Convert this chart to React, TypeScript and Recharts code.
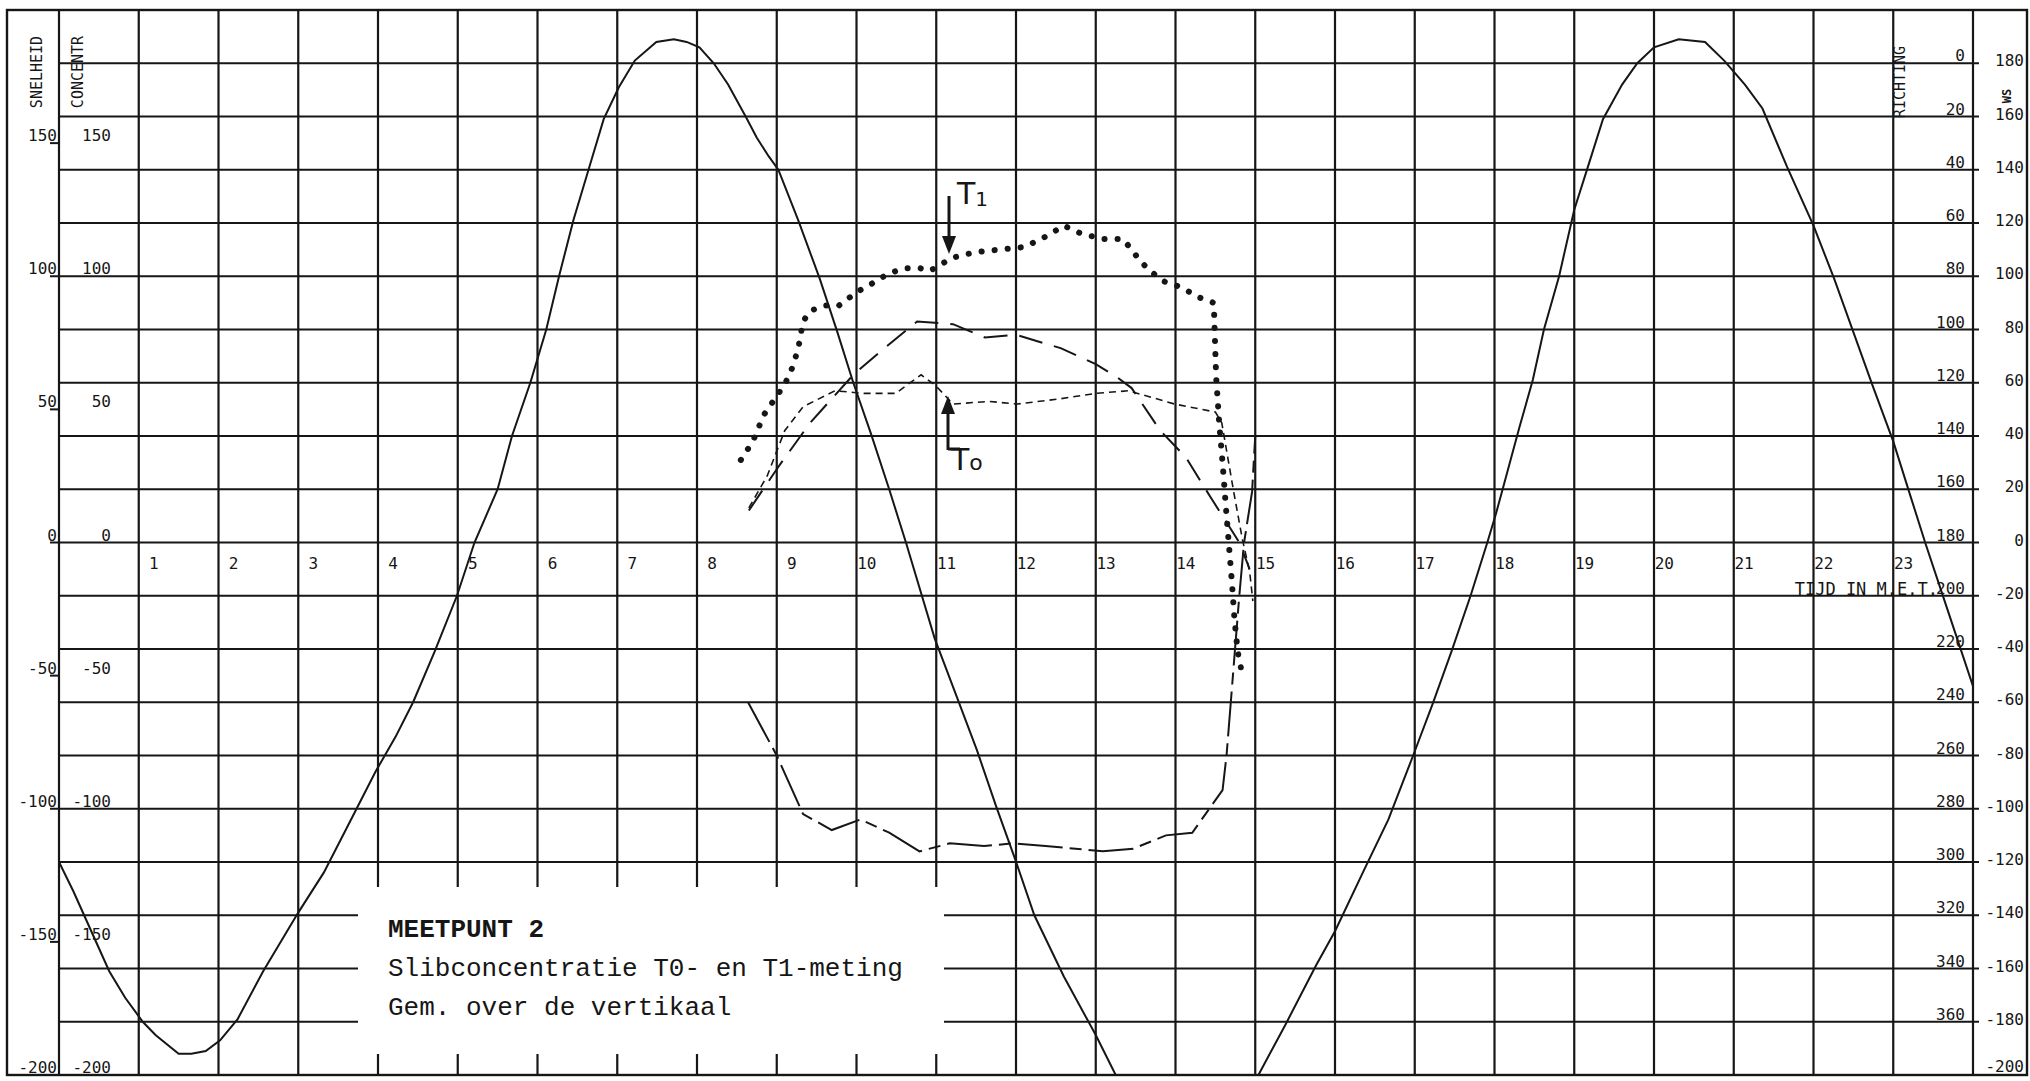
import React from "react";
import {
  LineChart,
  Line,
  XAxis,
  YAxis,
  CartesianGrid,
  ReferenceDot,
} from "recharts";

const INK = "#161616";
const MONO = "'DejaVu Sans Mono', monospace";
const TYPE = "'Liberation Mono', 'DejaVu Sans Mono', monospace";

// x axis: time in hours (M.E.T.)
const hourGrid = [0, 1, 2, 3, 4, 5, 6, 7, 8, 9, 10, 11, 12, 13, 14, 15, 16, 17, 18, 19, 20, 21, 22, 23, 24];
const hourLabels = [1, 2, 3, 4, 5, 6, 7, 8, 9, 10, 11, 12, 13, 14, 15, 16, 17, 18, 19, 20, 21, 22, 23];

// y levels
const levelGrid = [-200, -180, -160, -140, -120, -100, -80, -60, -40, -20, 0, 20, 40, 60, 80, 100, 120, 140, 160, 180, 200];
const leftLabels = [-200, -150, -100, -50, 0, 50, 100, 150];
const rightLabels = [-200, -180, -160, -140, -120, -100, -80, -60, -40, -20, 0, 20, 40, 60, 80, 100, 120, 140, 160, 180];

// snelheid (solid curve)
const tideHours = [
  0, 0.18, 0.36, 0.63, 0.83, 1.05, 1.21, 1.5, 1.66, 1.84, 2.02, 2.24, 2.56, 3.0, 3.32, 3.68, 3.97, 4.22, 4.44, 4.71,
  4.99, 5.21, 5.5, 5.68, 5.91, 6.11, 6.27, 6.45, 6.65, 6.83, 7.02, 7.22, 7.49, 7.71, 7.87, 8.03, 8.21, 8.39, 8.61, 8.75,
  8.9, 9.02, 9.27, 9.54, 9.76, 9.96, 10.18, 10.41, 10.62, 10.98, 11.22, 11.51, 11.75, 11.99, 12.23, 12.6, 13.0, 13.25, 14.1, 15.04,
  15.38, 15.76, 16.0, 16.38, 16.67, 16.98, 17.22, 17.46, 17.7, 17.91, 18.02, 18.12, 18.31, 18.48, 18.62, 18.81, 19.0, 19.17, 19.36, 19.6,
  19.79, 20.0, 20.31, 20.64, 20.88, 21.14, 21.36, 21.67, 22.0, 22.26, 22.5, 22.74, 23.0, 23.21, 23.4, 23.7, 24,
];
const tideValues = [
  -120, -131, -143, -161, -171, -180, -185, -192, -192, -191, -187, -179, -161, -139, -124, -103, -86, -73, -60, -41,
  -20, 0, 20, 40, 60, 80, 100, 121, 141, 159, 171, 181, 188, 189, 188, 186, 180, 172, 160, 152,
  145, 140, 121, 99, 79, 60, 41, 20, 0, -36, -55, -78, -99, -119, -140, -163, -185, -200, null, -200,
  -181, -159, -146, -122, -104, -80, -61, -41, -20, 0, 11, 22, 43, 61, 80, 100, 125, 141, 159, 172,
  180, 186, 189, 188, 181, 172, 163, 141, 119, 99, 79, 59, 38, 18, 0, -27, -54,
];

// T1 concentratie (heavy dots)
const t1Hours = [
  8.55, 8.7, 8.84, 9.0, 9.11, 9.2, 9.27, 9.33, 9.42, 9.6, 9.78, 10.0, 10.18, 10.4, 10.6, 10.8, 10.92, 11.03, 11.21, 11.48,
  11.79, 12.11, 12.38, 12.6, 12.82, 13.09, 13.34, 13.45, 13.55, 13.68, 13.86, 14.06, 14.3, 14.48, 14.51, 14.55, 14.59, 14.63, 14.67, 14.71,
  14.74, 14.78, 14.82,
];
const t1Values = [
  31, 38, 48, 55, 60, 66, 73, 83, 87, 89, 89, 94, 97, 101, 103, 103, 102, 104, 107, 109,
  110, 111, 115, 119, 116, 114, 114, 110, 106, 102, 98, 96, 92, 90, 62, 44, 30, 14, -1, -16,
  -29, -41, -47,
];

// T0 concentratie (fine dashes)
const t0Hours = [8.65, 8.88, 9.1, 9.33, 9.73, 10.09, 10.49, 10.81, 10.99, 11.21, 11.66, 12.02, 12.56, 13.0, 13.41, 13.99, 14.5, 14.58, 14.73, 14.84, 14.93, 14.97];
const t0Values = [13, 25, 42, 51, 57, 56, 56, 63, 59, 52, 53, 52, 54, 56, 57, 52, 49, 45, 19, 1, -11, -22];

// long dashes
const dashHours = [8.65, 9.01, 9.42, 9.96, 10.31, 10.76, 11.21, 11.61, 12.0, 12.56, 13.0, 13.27, 13.45, 13.81, 14.13, 14.44, 14.8, 14.93];
const dashValues = [12, 28, 45, 63, 72, 83, 82, 77, 78, 73, 67, 62, 58, 42, 32, 17, 0, -10];

// dash-dot curve (lower)
const lowHours = [8.64, 9.0, 9.33, 9.69, 10.05, 10.41, 10.79, 11.17, 11.6, 11.96, 12.37, 13.09, 13.47, 13.88, 14.21, 14.59, 14.64, 14.72, 14.8, 14.86, 14.96, 15.0];
const lowValues = [-60, -80, -102, -108, -104, -109, -116, -113, -114, -113, -114, -116, -115, -110, -109, -93, -80, -50, -20, 0, 19, 40];

const zip = (hs: number[], vs: (number | null)[]) => hs.map((h, i) => ({ h, v: vs[i] }));

const tideData = zip(tideHours, tideValues);
const t1Data = zip(t1Hours, t1Values);
const t0Data = zip(t0Hours, t0Values);
const dashData = zip(dashHours, dashValues);
const lowData = zip(lowHours, lowValues);

function LeftTick(props: any) {
  const { x, y, payload } = props;
  const v = payload.value;
  return (
    <g>
      <line x1={x - 9} x2={x} y1={y} y2={y} stroke={INK} strokeWidth={2} />
      <text x={x - 2} y={y - 2} textAnchor="end" fontFamily={MONO} fontSize={16} fill={INK}>
        {v}
      </text>
      <text x={x + 52} y={y - 2} textAnchor="end" fontFamily={MONO} fontSize={16} fill={INK}>
        {v}
      </text>
    </g>
  );
}

function RightTick(props: any) {
  const { x, y, payload } = props;
  const v = payload.value;
  return (
    <g>
      <line x1={x} x2={x + 6} y1={y} y2={y} stroke={INK} strokeWidth={2} />
      {v > -200 && (
        <text x={x - 8} y={y - 2} textAnchor="end" fontFamily={MONO} fontSize={16} fill={INK}>
          {180 - v}
        </text>
      )}
      <text x={x + 51} y={v === -200 ? y - 3 : y + 3} textAnchor="end" fontFamily={MONO} fontSize={16} fill={INK}>
        {v}
      </text>
    </g>
  );
}

const hourLabel = (h: number) => (p: any) => {
  const vb = p.viewBox || {};
  return (
    <text x={vb.x + 20} y={vb.y + 26} textAnchor="end" fontFamily={MONO} fontSize={16} fill={INK}>
      {h}
    </text>
  );
};

const lineBase = {
  dataKey: "v",
  dot: false,
  activeDot: false,
  isAnimationActive: false,
  connectNulls: false,
  type: "linear" as const,
};

export default function App() {
  return (
    <div style={{ position: "absolute", left: 0, top: 0, width: 2030, height: 1081, background: "#fff" }}>
      <LineChart width={2030} height={1081} margin={{ top: 10, right: 0, bottom: 6, left: 0 }}>
        <CartesianGrid
          horizontalValues={levelGrid}
          verticalValues={hourGrid}
          stroke={INK}
          strokeWidth={2.2}
        />
        <XAxis type="number" dataKey="h" domain={[0, 24]} ticks={hourGrid} hide allowDataOverflow />
        <YAxis
          type="number"
          domain={[-200, 200]}
          ticks={leftLabels}
          interval={0}
          width={59}
          tickSize={0}
          tickMargin={0}
          axisLine={false}
          tickLine={false}
          tick={<LeftTick />}
          allowDataOverflow
        />
        <YAxis
          yAxisId="r"
          orientation="right"
          type="number"
          domain={[-200, 200]}
          ticks={rightLabels}
          interval={0}
          width={57}
          tickSize={0}
          tickMargin={0}
          axisLine={false}
          tickLine={false}
          tick={<RightTick />}
          allowDataOverflow
        />
        {hourLabels.map((h) => (
          <ReferenceDot key={h} x={h} y={0} r={0} fill="none" stroke="none" label={hourLabel(h)} />
        ))}
        <Line {...lineBase} data={tideData} stroke={INK} strokeWidth={2} />
        <Line {...lineBase} data={lowData} stroke={INK} strokeWidth={2} strokeDasharray="45 7 12 7" />
        <Line {...lineBase} data={dashData} stroke={INK} strokeWidth={2} strokeDasharray="24 12" />
        <Line {...lineBase} data={t0Data} stroke={INK} strokeWidth={1.6} strokeDasharray="7 5" />
        <Line
          {...lineBase}
          data={t1Data}
          stroke={INK}
          strokeWidth={6}
          strokeDasharray="0.1 13"
          strokeLinecap="round"
        />
      </LineChart>
      <svg
        width={2030}
        height={1081}
        style={{ position: "absolute", left: 0, top: 0, pointerEvents: "none" }}
      >
        <rect x={7} y={10} width={2020} height={1065} fill="none" stroke={INK} strokeWidth={2.4} />
        <rect x={358} y={887} width={586} height={167} fill="#fff" />
        <text x={388} y={937} fontFamily={TYPE} fontSize={26} fontWeight="bold" fill={INK}>
          MEETPUNT 2
        </text>
        <text x={388} y={976} fontFamily={TYPE} fontSize={26} fill={INK}>
          Slibconcentratie T0- en T1-meting
        </text>
        <text x={388} y={1015} fontFamily={TYPE} fontSize={26} fill={INK}>
          Gem. over de vertikaal
        </text>

        <text x={1938} y={595} textAnchor="end" fontFamily={MONO} fontSize={17} fill={INK}>
          TIJD IN M.E.T.
        </text>

        <text transform="translate(42 72) rotate(-90)" textAnchor="middle" fontFamily={MONO} fontSize={15} fill={INK}>
          SNELHEID
        </text>
        <text transform="translate(83 72) rotate(-90)" textAnchor="middle" fontFamily={MONO} fontSize={15} fill={INK}>
          CONCENTR
        </text>
        <text transform="translate(1905 82) rotate(-90)" textAnchor="middle" fontFamily={MONO} fontSize={15} fill={INK}>
          RICHTING
        </text>
        <text transform="translate(2011 96) rotate(-90)" textAnchor="middle" fontFamily={MONO} fontSize={12} fontWeight="bold" fill={INK}>
          WS
        </text>

        {/* T1 annotation */}
        <text x={957} y={204} fontFamily="'DejaVu Sans', sans-serif" fontSize={30} fill={INK}>
          T<tspan fontSize={20} dy={2}>1</tspan>
        </text>
        <line x1={949} y1={196} x2={949} y2={240} stroke={INK} strokeWidth={3} />
        <polygon points="942,236 956,236 949,254" fill={INK} />

        {/* T0 annotation */}
        <line x1={948} y1={450} x2={948} y2={410} stroke={INK} strokeWidth={3} />
        <polygon points="941,414 955,414 948,396" fill={INK} />
        <line x1={948} y1={449} x2={960} y2={449} stroke={INK} strokeWidth={3} />
        <text x={951} y={470} fontFamily="'DejaVu Sans', sans-serif" fontSize={30} fill={INK}>
          T<tspan fontSize={22}>o</tspan>
        </text>
      </svg>
    </div>
  );
}
